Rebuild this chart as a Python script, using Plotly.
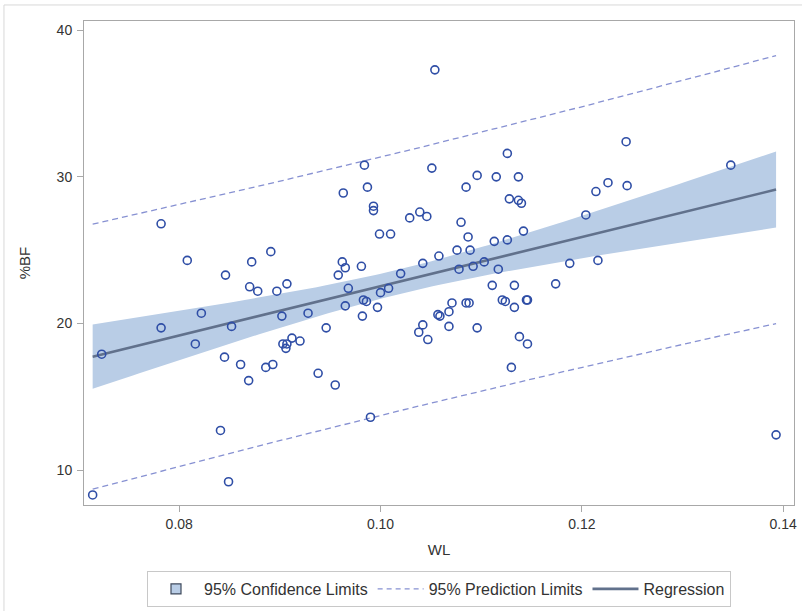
import numpy as np
import plotly.graph_objects as go

# ---- data ----
wl = [0.0782, 0.1054, 0.0984, 0.1051, 0.0963, 0.0987, 0.0993, 0.0993, 0.1029, 0.1039,
      0.1046, 0.0999, 0.1010, 0.0891, 0.1244, 0.1126, 0.1096, 0.1115, 0.1137, 0.1085,
      0.1348, 0.1226, 0.1245, 0.1214, 0.1128, 0.1137, 0.1140, 0.1080, 0.1087, 0.1204,
      0.1142, 0.1113, 0.1126, 0.1076, 0.1089,
      0.0808, 0.0872, 0.0962, 0.0965, 0.0981, 0.0958, 0.0846, 0.0870, 0.0878, 0.0897,
      0.0907, 0.0968, 0.1020, 0.1042, 0.1058, 0.1008, 0.1000, 0.0983, 0.0986, 0.0997,
      0.0965, 0.0982, 0.1057, 0.1059, 0.1042, 0.1038, 0.1047, 0.0782, 0.0822, 0.0852,
      0.0902, 0.0928, 0.0946, 0.0723, 0.0816, 0.0903, 0.0907, 0.0906, 0.0912, 0.0920,
      0.0845, 0.0861, 0.0886, 0.0893, 0.0869, 0.0938, 0.0955, 0.0990, 0.0841, 0.0849,
      0.0714, 0.1078, 0.1092, 0.1103, 0.1117, 0.1188, 0.1216, 0.1111, 0.1133, 0.1174,
      0.1071, 0.1085, 0.1088, 0.1121, 0.1124, 0.1146, 0.1145, 0.1133, 0.1068, 0.1068,
      0.1096, 0.1138, 0.1146, 0.1130, 0.1393]
bf = [26.8, 37.3, 30.8, 30.6, 28.9, 29.3, 28.0, 27.7, 27.2, 27.6,
      27.3, 26.1, 26.1, 24.9, 32.4, 31.6, 30.1, 30.0, 30.0, 29.3,
      30.8, 29.6, 29.4, 29.0, 28.5, 28.4, 28.2, 26.9, 25.9, 27.4,
      26.3, 25.6, 25.7, 25.0, 25.0,
      24.3, 24.2, 24.2, 23.8, 23.9, 23.3, 23.3, 22.5, 22.2, 22.2,
      22.7, 22.4, 23.4, 24.1, 24.6, 22.4, 22.1, 21.6, 21.5, 21.1,
      21.2, 20.5, 20.6, 20.5, 19.9, 19.4, 18.9, 19.7, 20.7, 19.8,
      20.5, 20.7, 19.7, 17.9, 18.6, 18.6, 18.6, 18.3, 19.0, 18.8,
      17.7, 17.2, 17.0, 17.2, 16.1, 16.6, 15.8, 13.6, 12.7, 9.2,
      8.3, 23.7, 23.9, 24.2, 23.7, 24.1, 24.3, 22.6, 22.6, 22.7,
      21.4, 21.4, 21.4, 21.6, 21.5, 21.6, 21.6, 21.1, 20.8, 19.8,
      19.7, 19.1, 18.6, 17.0, 12.4]

x_ticks = [0.08, 0.10, 0.12, 0.14]
x_tick_labels = ["0.08", "0.10", "0.12", "0.14"]
y_ticks = [10, 20, 30, 40]
y_tick_labels = ["10", "20", "30", "40"]
legend_labels = ["95% Confidence Limits", "95% Prediction Limits", "Regression"]
x_title = "WL"
y_title = "%BF"

# ---- linear regression fit with 95% limits ----
x = np.array(wl)
y = np.array(bf)
n = len(x)
b1, b0 = np.polyfit(x, y, 1)
resid = y - (b0 + b1 * x)
s = np.sqrt(np.sum(resid ** 2) / (n - 2))
sxx = np.sum((x - x.mean()) ** 2)
tval = 1.9826  # t(0.975, ~107 df)
xf = np.linspace(x.min(), x.max(), 120)
yf = b0 + b1 * xf
se_mean = s * np.sqrt(1.0 / n + (xf - x.mean()) ** 2 / sxx)
se_pred = s * np.sqrt(1.0 + 1.0 / n + (xf - x.mean()) ** 2 / sxx)
cl_lo, cl_hi = yf - tval * se_mean, yf + tval * se_mean
pl_lo, pl_hi = yf - tval * se_pred, yf + tval * se_pred

band_color = "#b9cde6"
reg_color = "#61718c"
pred_color = "#8791d2"
marker_color = "#2f4ea6"
font_family = "Liberation Sans, Arial, sans-serif"

fig = go.Figure()
fig.add_trace(go.Scatter(
    x=np.concatenate([xf, xf[::-1]]), y=np.concatenate([cl_hi, cl_lo[::-1]]),
    fill="toself", fillcolor=band_color, line=dict(width=0), mode="lines",
    hoverinfo="skip", showlegend=False))
fig.add_trace(go.Scatter(
    x=xf, y=yf, mode="lines", line=dict(color=reg_color, width=2.6),
    showlegend=False))
fig.add_trace(go.Scatter(
    x=xf, y=pl_hi, mode="lines", line=dict(color=pred_color, width=1.3, dash="6px,4px"),
    showlegend=False))
fig.add_trace(go.Scatter(
    x=xf, y=pl_lo, mode="lines", line=dict(color=pred_color, width=1.3, dash="6px,4px"),
    showlegend=False))
fig.add_trace(go.Scatter(
    x=wl, y=bf, mode="markers",
    marker=dict(symbol="circle-open", size=8, color=marker_color, line=dict(width=1.6, color=marker_color)),
    showlegend=False))

# legend-only entries
fig.add_trace(go.Scatter(
    x=[None], y=[None], mode="markers", name=legend_labels[0],
    marker=dict(symbol="square", size=10, color=band_color, line=dict(color="#3f4a5c", width=1.2))))
fig.add_trace(go.Scatter(
    x=[None], y=[None], mode="lines", name=legend_labels[1],
    line=dict(color=pred_color, width=1.3, dash="5px,4px")))
fig.add_trace(go.Scatter(
    x=[None], y=[None], mode="lines", name=legend_labels[2],
    line=dict(color=reg_color, width=2.6)))

axis_common = dict(
    showgrid=False, zeroline=False, showline=True, linecolor="#a8a8a8", linewidth=1,
    mirror=True, ticks="outside", ticklen=6, tickcolor="#a8a8a8", tickwidth=1,
    tickfont=dict(family=font_family, size=14, color="#333333"),
)

fig.update_layout(
    width=802, height=611,
    margin=dict(l=84, r=8, t=21, b=106, autoexpand=False),
    paper_bgcolor="white", plot_bgcolor="white",
    font=dict(family=font_family, size=14, color="#333333"),
    xaxis=dict(range=[0.07054, 0.14108], tickvals=x_ticks, ticktext=x_tick_labels,
               ticklabelstandoff=0,
               title=dict(text=x_title, font=dict(size=15, color="#333333"), standoff=13),
               **axis_common),
    yaxis=dict(range=[7.614, 40.634], tickvals=y_ticks, ticktext=y_tick_labels,
               ticklabelstandoff=2,
               title=dict(text=y_title, font=dict(size=15, color="#333333"), standoff=22),
               **axis_common),
    legend=dict(orientation="h", x=0.5, xanchor="center",
                yref="container", y=0.036, yanchor="middle",
                bordercolor="#c8c8c8", borderwidth=1, bgcolor="white",
                font=dict(family=font_family, size=16, color="#333333"),
                itemwidth=46, traceorder="normal"),
    showlegend=True,
    shapes=[
        dict(type="line", xref="paper", yref="paper", x0=-0.1127, x1=1.03, y0=1.0331, y1=1.0331,
             line=dict(color="#d8d8d8", width=1)),
        dict(type="line", xref="paper", yref="paper", x0=-0.1127, x1=-0.1127, y0=1.0331, y1=-0.23,
             line=dict(color="#d8d8d8", width=1)),
    ],
)

fig.write_html("out.html")
